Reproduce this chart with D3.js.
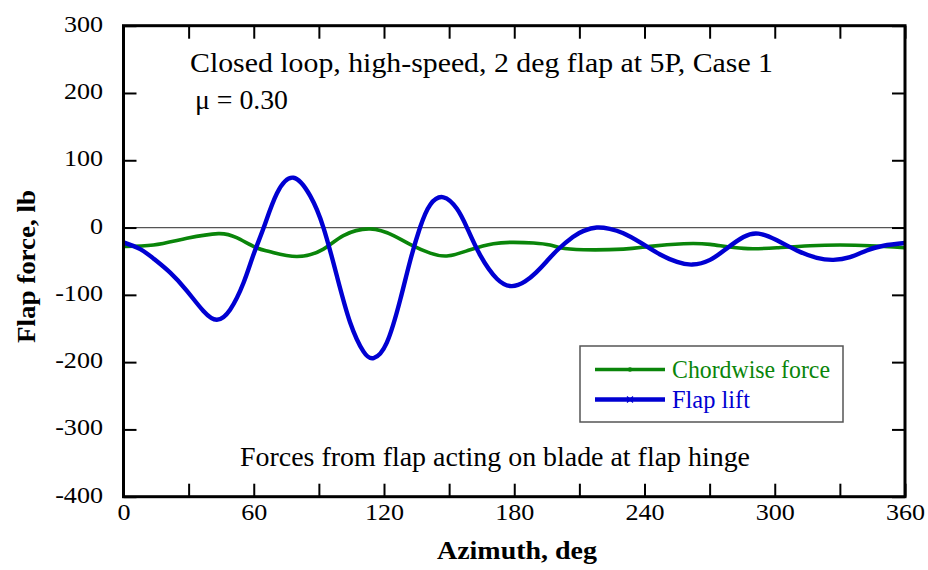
<!DOCTYPE html>
<html>
<head>
<meta charset="utf-8">
<script src="https://cdn.jsdelivr.net/npm/d3@7"></script>
<style>
  html, body { margin: 0; padding: 0; background: #fff; }
  svg { display: block; }
  text { font-family: "Liberation Serif", "Times New Roman", serif; }
</style>
</head>
<body>
<svg id="chart" width="928" height="570"></svg>
<script>
// ---- Data ----
const xTicks = [0, 60, 120, 180, 240, 300, 360];
const xMinorTicks = [30, 90, 150, 210, 270, 330];
const yTicks = [300, 200, 100, 0, -100, -200, -300, -400];

const flapLiftAz = [0, 7.7, 13.8, 21.5, 29.2, 36.8, 43, 49.1, 55.3, 59.9, 64.6, 70.7, 78.3, 86, 92.1, 98.3, 104.4, 110.5, 115.2, 121.3, 127.5, 132, 136.6, 141.3, 147.4, 153.6, 158.2, 164.3, 172, 178.9, 185, 190, 195, 200, 207, 212, 218, 224, 230, 238, 247.2, 255, 262, 270.2, 277.9, 285.6, 292.5, 301, 310.2, 319.4, 327, 334.7, 342.4, 350.1, 360];
const flapLift   = [-22, -32, -46, -67, -94, -124, -137, -122, -82, -40, 0, 51, 74, 47, 0, -72, -141, -184, -194, -171, -107, -50, 0, 34, 45, 28, 0, -41, -76, -87, -80, -67, -50, -33, -14, -5, 0, -2, -8, -22, -40, -51, -55, -48, -31, -14, -9, -19, -34, -45, -48, -44, -34, -27, -23];

const chordAz = [0, 13.8, 29.2, 43.7, 52.1, 61.3, 67.6, 79.9, 92.1, 101.3, 113.6, 124.4, 132, 141.3, 149.7, 159.7, 170.4, 179.6, 188.9, 196.5, 201.1, 211.9, 230.3, 242.6, 258, 270.2, 285.6, 301, 316.3, 330.1, 343.9, 360];
const chordForce = [-28, -26, -16, -9, -15, -30, -36, -43, -32, -12, -2, -12, -25, -38, -42, -33, -24, -22, -23, -26, -30, -33, -32, -28, -24, -25, -31, -30, -27, -26, -27, -30];

const seriesNames = ["Chordwise force", "Flap lift"];
const seriesColors = ["#0a850a", "#0000d2"];
const annotations = ["Closed loop, high-speed, 2 deg flap at 5P, Case 1", "\u03bc = 0.30", "Forces from flap acting on blade at flap hinge"];

// ---- Layout ----
const svg = d3.select("#chart");
const L = 123.5, R = 905, T = 25.7, B = 496.7;
const STRETCH = 1.11;

const x = d3.scaleLinear().domain([0, 360]).range([L, R]);
const y = d3.scaleLinear().domain([-400, 300]).range([B, T]);

function fit(sel, target) {
  sel.each(function() {
    const w = this.getComputedTextLength();
    const t = target != null ? target : w * STRETCH;
    d3.select(this).attr("textLength", t).attr("lengthAdjust", "spacingAndGlyphs");
  });
}

// zero line
svg.append("line")
  .attr("x1", L).attr("x2", R).attr("y1", y(0)).attr("y2", y(0))
  .attr("stroke", "#555").attr("stroke-width", 1.2);

// lines
const line = d3.line().x(d => x(d[0])).y(d => y(d[1])).curve(d3.curveNatural);
const chordData = chordAz.map((a, i) => [a, chordForce[i]]);
const liftData = flapLiftAz.map((a, i) => [a, flapLift[i]]);

const plot = svg.append("g");
plot.append("path").datum(chordData).attr("d", line)
  .attr("fill", "none").attr("stroke", seriesColors[0]).attr("stroke-width", 3.6)
  .attr("stroke-linejoin", "round");
plot.append("path").datum(liftData).attr("d", line)
  .attr("fill", "none").attr("stroke", seriesColors[1]).attr("stroke-width", 4.4)
  .attr("stroke-linejoin", "round");

// axes (ticks inward on all sides)
const tickLen = 13;
const allX = xTicks.concat(xMinorTicks);
const axB = d3.axisBottom(x).tickValues(allX).tickSize(-tickLen).tickFormat(d => xTicks.includes(d) ? String(d) : "");
const axT = d3.axisTop(x).tickValues(allX).tickSize(-tickLen).tickFormat("");
const axL = d3.axisLeft(y).tickValues(yTicks).tickSize(-tickLen).tickFormat(d => String(d));
const axR = d3.axisRight(y).tickValues(yTicks).tickSize(-tickLen).tickFormat("");

function styleAxis(g) {
  g.select(".domain").remove();
  g.selectAll(".tick line").attr("stroke", "#000").attr("stroke-width", 2);
  g.selectAll(".tick text").attr("fill", "#000").attr("font-size", 23.5)
    .attr("font-family", "'Liberation Serif', serif");
}
const gB = svg.append("g").attr("transform", `translate(0,${B})`).call(axB).call(styleAxis);
gB.selectAll(".tick text").attr("dy", null).attr("y", 23).attr("dominant-baseline", "auto");
svg.append("g").attr("transform", `translate(0,${T})`).call(axT).call(styleAxis);
const gL = svg.append("g").attr("transform", `translate(${L},0)`).call(axL).call(styleAxis);
gL.selectAll(".tick text").attr("dy", null).attr("x", -20.5).attr("y", 5.5).attr("dominant-baseline", "auto");
svg.append("g").attr("transform", `translate(${R},0)`).call(axR).call(styleAxis);
fit(gB.selectAll(".tick text").filter(function() { return this.textContent !== ""; }));
fit(gL.selectAll(".tick text"));

// frame
svg.append("rect").attr("x", L).attr("y", T).attr("width", R - L).attr("height", B - T)
  .attr("fill", "none").attr("stroke", "#000").attr("stroke-width", 3);

// annotations
fit(svg.append("text").attr("x", 190).attr("y", 72).attr("font-size", 26.5).text(annotations[0]), 583);
fit(svg.append("text").attr("x", 195).attr("y", 108.5).attr("font-size", 26.5).text(annotations[1]), 93);
fit(svg.append("text").attr("x", 240).attr("y", 466).attr("font-size", 26.5).text(annotations[2]), 510);

// axis titles
fit(svg.append("text").attr("x", 437).attr("y", 559).attr("font-size", 25.5).attr("font-weight", "bold")
  .text("Azimuth, deg"), 160);
fit(svg.append("text").attr("transform", `translate(35,343) rotate(-90)`).attr("font-size", 25.5)
  .attr("font-weight", "bold").text("Flap force, lb"), 153);

// legend
const lg = svg.append("g");
lg.append("rect").attr("x", 580).attr("y", 346).attr("width", 263).attr("height", 76)
  .attr("fill", "#fff").attr("stroke", "#555").attr("stroke-width", 1.5);
const legendWidths = [158, 78];
seriesNames.forEach((n, i) => {
  const yy = 369.5 + i * 30;
  lg.append("line").attr("x1", 595).attr("x2", 665).attr("y1", yy).attr("y2", yy)
    .attr("stroke", seriesColors[i]).attr("stroke-width", i === 0 ? 3.6 : 4.4);
  if (i === 0) {
    lg.append("circle").attr("cx", 630).attr("cy", yy).attr("r", 2.2).attr("fill", seriesColors[i]);
  } else {
    lg.append("path").attr("d", `M${627},${yy - 3}L${633},${yy + 3}M${627},${yy + 3}L${633},${yy - 3}`)
      .attr("stroke", seriesColors[i]).attr("stroke-width", 1.2);
  }
  fit(lg.append("text").attr("x", 672).attr("y", yy + 8).attr("font-size", 25)
    .attr("fill", seriesColors[i]).text(n), legendWidths[i]);
});
</script>
</body>
</html>
